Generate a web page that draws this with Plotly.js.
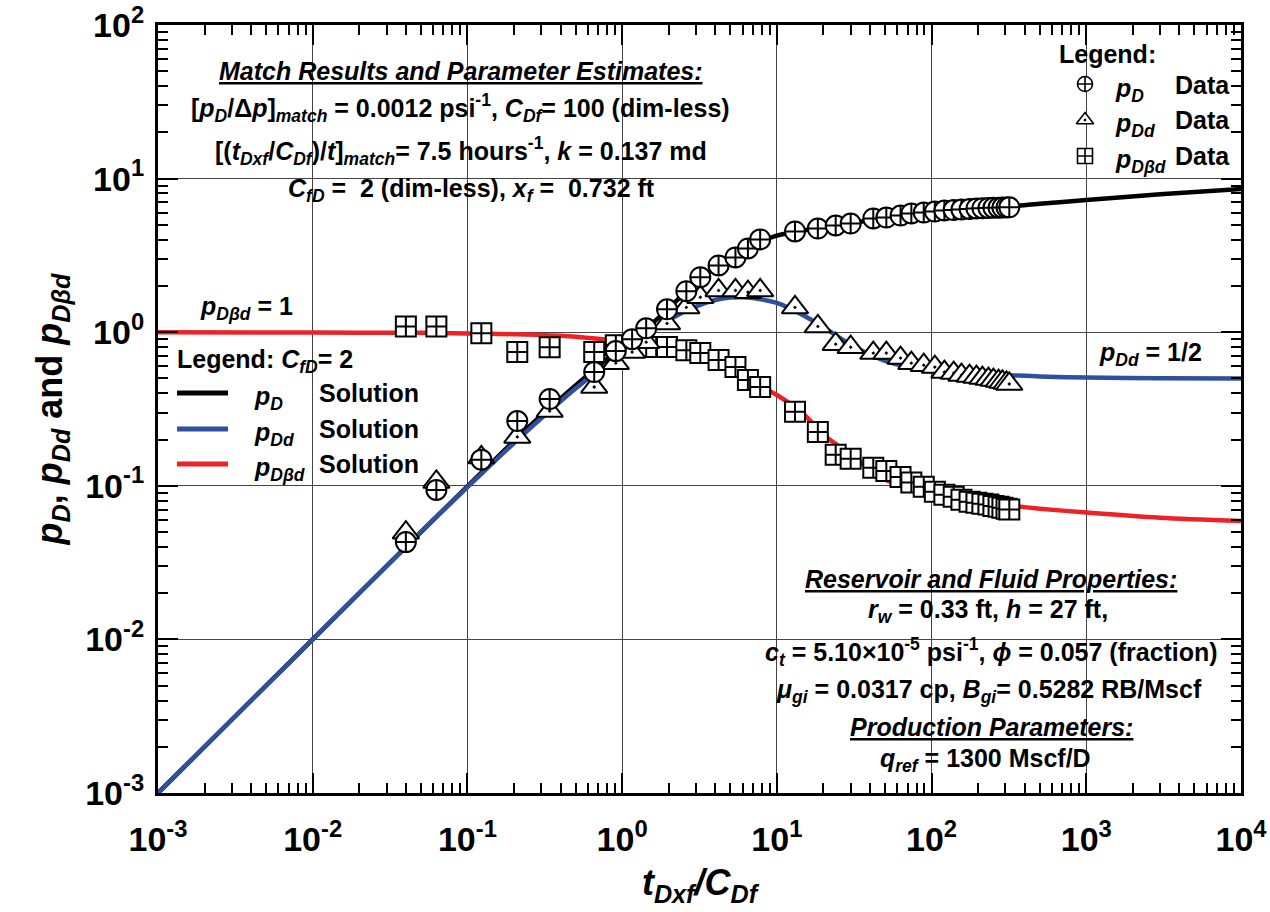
<!DOCTYPE html>
<html>
<head>
<meta charset="utf-8">
<script src="https://cdn.plot.ly/plotly-3.0.1.min.js"></script>
<style>html,body{margin:0;padding:0;background:#fff;}#chart{width:1270px;height:912px;}</style>
</head>
<body>
<div id="chart"></div>
<script>
// ---- data ----
const tData = [0.040, 0.063, 0.123, 0.21, 0.34, 0.66, 0.91, 1.16, 1.43, 1.95, 2.6, 3.2, 4.2, 5.4, 6.5, 7.8,
  13.1, 18.4, 24, 30, 42, 51, 63, 74, 89, 105, 121, 139, 156, 176, 195, 213, 233, 251, 271, 287, 305, 318];
const pDData = [0.043, 0.094, 0.148, 0.264, 0.367, 0.55, 0.753, 0.90, 1.06, 1.41, 1.85, 2.28, 2.72, 3.07, 3.51, 4.02,
  4.53, 4.73, 4.95, 5.10, 5.50, 5.58, 5.75, 5.93, 6.01, 6.10, 6.20, 6.24, 6.29, 6.34, 6.39, 6.42, 6.44, 6.46, 6.47, 6.48, 6.49, 6.50];
const pDdData = [0.0495, 0.106, 0.153, 0.208, 0.307, 0.44, 0.629, 0.742, 0.861, 1.14, 1.45, 1.69, 1.87, 1.87, 1.82, 1.87,
  1.45, 1.09, 0.836, 0.799, 0.731, 0.731, 0.678, 0.629, 0.610, 0.593, 0.550, 0.542, 0.526, 0.518, 0.510, 0.503, 0.495, 0.488, 0.481, 0.474, 0.467, 0.46];
const pDbdData = [1.09, 1.09, 0.985, 0.742, 0.799, 0.742, 0.823, 0.80, 0.80, 0.80, 0.764, 0.731, 0.658, 0.593, 0.488, 0.44,
  0.303, 0.224, 0.159, 0.150, 0.131, 0.125, 0.114, 0.105, 0.0986, 0.0914, 0.0875, 0.0849, 0.0812, 0.0787, 0.0776, 0.0765, 0.0755, 0.074, 0.073, 0.072, 0.071, 0.070];

const tSol = [0.001, 0.01, 0.05, 0.1, 0.2, 0.3, 0.5, 0.7, 1, 1.5, 2, 3, 4, 5, 6, 7, 10, 15, 20, 30, 50, 100, 200, 300, 500, 1000, 3000, 10000];
const pDSol = [0.001, 0.01, 0.05, 0.099, 0.196, 0.287, 0.45, 0.6, 0.8, 1.1, 1.43, 2.1, 2.6, 2.98, 3.35, 3.7, 4.25, 4.6, 4.82, 5.12, 5.55, 6.05, 6.4, 6.55, 6.85, 7.25, 7.9, 8.55];
const pDdSol = [0.001, 0.01, 0.05, 0.098, 0.19, 0.275, 0.43, 0.56, 0.72, 0.99, 1.2, 1.47, 1.62, 1.68, 1.69, 1.67, 1.55, 1.28, 1.08, 0.83, 0.65, 0.555, 0.535, 0.527, 0.515, 0.507, 0.502, 0.5];
const pDbdSol = [1.0, 0.995, 0.99, 0.982, 0.97, 0.96, 0.935, 0.905, 0.87, 0.84, 0.82, 0.76, 0.68, 0.61, 0.54, 0.47, 0.39, 0.29, 0.215, 0.16, 0.11, 0.09, 0.08, 0.075, 0.071, 0.067, 0.062, 0.059];

const decadeExps = [-3, -2, -1, 0, 1, 2, 3, 4];
const yDecadeExps = [-3, -2, -1, 0, 1, 2];

// ---- styling / geometry ----
const FONT = 'Liberation Sans, Arial, Helvetica, sans-serif';
const BLACK = '#000000', BLUE = '#2f4f9f', RED = '#ec2227';
const X0 = 158, X1 = 1241, Y0 = 25, Y1 = 793;
const fx = p => (p - X0) / (X1 - X0);
const fy = p => (Y1 - p) / (Y1 - Y0);

const tickText = e => '10<sup>' + (e < 0 ? '-' + (-e) : e) + '</sup>';
function minorVals(exps) {
  const out = [];
  for (let i = 0; i < exps.length - 1; i++) for (let m = 2; m <= 9; m++) out.push(m * Math.pow(10, exps[i]));
  return out;
}

const lineW = 4.5;
const traces = [
  {x: tSol, y: pDSol, mode: 'lines', line: {color: BLACK, width: lineW, shape: 'spline', smoothing: 0.8}, hoverinfo: 'skip'},
  {x: tSol, y: pDdSol, mode: 'lines', line: {color: BLUE, width: lineW, shape: 'spline', smoothing: 0.8}, hoverinfo: 'skip'},
  {x: tSol, y: pDbdSol, mode: 'lines', line: {color: RED, width: lineW, shape: 'spline', smoothing: 0.8}, hoverinfo: 'skip'},
  {x: tData, y: pDbdData, mode: 'markers', marker: {symbol: 'square-cross', size: 20, color: '#fff', line: {color: BLACK, width: 2}}},
  {x: tData, y: pDdData, mode: 'markers', marker: {symbol: 'triangle-up-dot', size: 23, color: '#fff', line: {color: BLACK, width: 2}}},
  {x: tData, y: pDData, mode: 'markers', marker: {symbol: 'circle-cross', size: 20, color: '#fff', line: {color: BLACK, width: 2}}},
  // legend symbols (overlay axes in paper fractions)
  {x: [fx(1085), fx(1085), fx(1085)], y: [fy(84), fy(120), fy(156)], xaxis: 'x2', yaxis: 'y2', mode: 'markers',
   marker: {symbol: ['circle-cross', 'triangle-up-dot', 'square-cross'], size: 15, color: '#fff', line: {color: BLACK, width: 1.6}}}
];

const txt = (text, xp, yp, opt) => Object.assign({
  text: text, xref: 'paper', yref: 'paper', x: fx(xp), y: fy(yp), showarrow: false,
  xanchor: 'center', yanchor: 'middle', font: {family: FONT, size: 25, color: BLACK}
}, opt || {});

const annotations = [
  txt('<b><i><u>Match Results and Parameter Estimates:</u></i></b>', 461, 71),
  txt('<b>[<i>p</i><sub><i>D</i></sub>/Δ<i>p</i>]<sub><i>match</i></sub> = 0.0012 psi<sup>-1</sup>, <i>C</i><sub><i>Df</i></sub>= 100 (dim-less)</b>', 460, 108),
  txt('<b>[(<i>t</i><sub><i>Dxf</i></sub>/<i>C</i><sub><i>Df</i></sub>)/<i>t</i>]<sub><i>match</i></sub>= 7.5 hours<sup>-1</sup>, <i>k</i> = 0.137 md</b>', 461, 151),
  txt('<b><i>C</i><sub><i>fD</i></sub> =  2 (dim-less), <i>x</i><sub><i>f</i></sub> =  0.732 ft</b>', 471, 190),

  txt('<b>Legend:</b>', 1057, 54, {xanchor: 'left'}),
  txt('<b><i>p</i><sub><i>D</i></sub></b>', 1113, 90, {xanchor: 'left'}),
  txt('<b>Data</b>', 1173, 85, {xanchor: 'left'}),
  txt('<b><i>p</i><sub><i>Dd</i></sub></b>', 1113, 125, {xanchor: 'left'}),
  txt('<b>Data</b>', 1173, 120, {xanchor: 'left'}),
  txt('<b><i>p</i><sub><i>Dβd</i></sub></b>', 1113, 161, {xanchor: 'left'}),
  txt('<b>Data</b>', 1173, 156, {xanchor: 'left'}),

  txt('<b><i>p</i><sub><i>Dβd</i></sub> = 1</b>', 198, 308, {xanchor: 'left'}),
  txt('<b>Legend: <i>C</i><sub><i>fD</i></sub>= 2</b>', 175, 361, {xanchor: 'left'}),
  txt('<b><i>p</i><sub><i>D</i></sub></b>', 252, 398, {xanchor: 'left'}),
  txt('<b>Solution</b>', 317, 393, {xanchor: 'left'}),
  txt('<b><i>p</i><sub><i>Dd</i></sub></b>', 252, 434, {xanchor: 'left'}),
  txt('<b>Solution</b>', 317, 429, {xanchor: 'left'}),
  txt('<b><i>p</i><sub><i>Dβd</i></sub></b>', 252, 469, {xanchor: 'left'}),
  txt('<b>Solution</b>', 317, 464, {xanchor: 'left'}),

  txt('<b><i>p</i><sub><i>Dd</i></sub> = 1/2</b>', 1097, 354, {xanchor: 'left'}),

  txt('<b><i><u>Reservoir and Fluid Properties:</u></i></b>', 991, 579),
  txt('<b><i>r</i><sub><i>w</i></sub> = 0.33 ft, <i>h</i> = 27 ft,</b>', 988, 611),
  txt('<b><i>c</i><sub><i>t</i></sub> = 5.10×10<sup>-5</sup> psi<sup>-1</sup>, <i>ϕ</i> = 0.057 (fraction)</b>', 991, 652),
  txt('<b><i>μ</i><sub><i>gi</i></sub> = 0.0317 cp, <i>B</i><sub><i>gi</i></sub>= 0.5282 RB/Mscf</b>', 989, 691),
  txt('<b><i><u>Production Parameters:</u></i></b>', 991, 727),
  txt('<b><i>q</i><sub><i>ref</i></sub> = 1300 Mscf/D</b>', 985, 760)
];

const rect = (xa, ya, xb, yb) => ({type: 'rect', xref: 'paper', yref: 'paper', x0: fx(xa), x1: fx(xb), y0: fy(yb), y1: fy(ya),
  fillcolor: '#fff', line: {width: 0}, layer: 'between'});
const lseg = (xa, xb, yp, color) => ({type: 'line', xref: 'paper', yref: 'paper', x0: fx(xa), x1: fx(xb), y0: fy(yp), y1: fy(yp),
  line: {color: color, width: 5}, layer: 'above'});

const shapes = [
  rect(160, 55, 745, 205),
  rect(1042, 36, 1238, 173),
  rect(160, 343, 445, 480),
  rect(760, 566, 1222, 774),
  lseg(177, 228, 393, BLACK),
  lseg(177, 228, 429, BLUE),
  lseg(177, 228, 464, RED)
];

const axisCommon = {
  type: 'log', showline: true, linewidth: 3, linecolor: BLACK, mirror: 'ticks',
  ticks: 'inside', ticklen: 20, tickwidth: 2, tickcolor: BLACK,
  showgrid: true, gridcolor: '#444', gridwidth: 1, zeroline: false,
  tickfont: {family: FONT, size: 34, color: BLACK, weight: 'bold'}
};

const layout = {
  width: 1270, height: 912,
  margin: {l: X0, r: 1270 - X1, t: Y0, b: 912 - Y1},
  paper_bgcolor: '#fff', plot_bgcolor: '#fff', showlegend: false,
  xaxis: Object.assign({}, axisCommon, {
    range: [-3, 4], tickmode: 'array', tickvals: decadeExps.map(e => Math.pow(10, e)), ticktext: decadeExps.map(tickText),
    ticklabelstandoff: 14,
    minor: {tickmode: 'array', tickvals: minorVals(decadeExps), ticks: 'inside', ticklen: 10, tickwidth: 2, tickcolor: BLACK, showgrid: false},
    title: {text: '<b><i>t</i><sub><i>Dxf</i></sub><i>/C</i><sub><i>Df</i></sub></b>', font: {family: FONT, size: 36, color: BLACK}, standoff: 14}
  }),
  yaxis: Object.assign({}, axisCommon, {
    range: [-3, 2], tickmode: 'array', tickvals: yDecadeExps.map(e => Math.pow(10, e)), ticktext: yDecadeExps.map(tickText),
    ticklabelstandoff: 4,
    minor: {tickmode: 'array', tickvals: minorVals(yDecadeExps), ticks: 'inside', ticklen: 10, tickwidth: 2, tickcolor: BLACK, showgrid: false},
    title: {text: '<b><i>p</i><sub><i>D</i></sub>, <i>p</i><sub><i>Dd</i></sub> and <i>p</i><sub><i>Dβd</i></sub></b>', font: {family: FONT, size: 36, color: BLACK}, standoff: 12}
  }),
  xaxis2: {overlaying: 'x', range: [0, 1], visible: false, fixedrange: true},
  yaxis2: {overlaying: 'y', range: [0, 1], visible: false, fixedrange: true},
  annotations: annotations,
  shapes: shapes
};

Plotly.newPlot('chart', traces, layout, {displayModeBar: false, staticPlot: true});
</script>
</body>
</html>
